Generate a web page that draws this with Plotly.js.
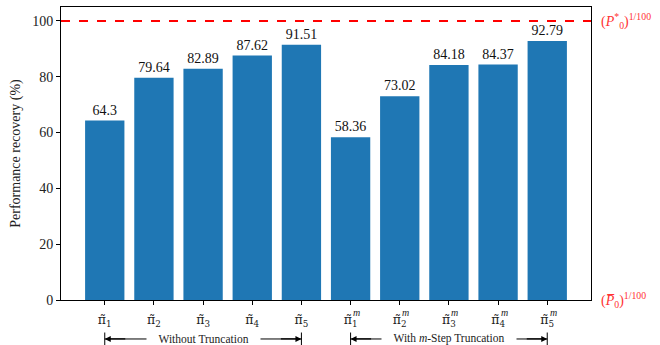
<!DOCTYPE html>
<html>
<head>
<meta charset="utf-8">
<script src="https://cdn.plot.ly/plotly-3.0.1.min.js"></script>
<style>body{margin:0;background:#fff}#chart{width:660px;height:345px}</style>
</head>
<body>
<div id="chart"></div>
<script>
const categories = ["p1","p2","p3","p4","p5","m1","m2","m3","m4","m5"];
const tickLabels = [
  "π̃<sub>1</sub>","π̃<sub>2</sub>","π̃<sub>3</sub>","π̃<sub>4</sub>","π̃<sub>5</sub>",
  "π̃<sub>1</sub>","π̃<sub>2</sub>","π̃<sub>3</sub>","π̃<sub>4</sub>","π̃<sub>5</sub>"
];
const tickSuper = ["","","","","","m","m","m","m","m"];
const values = [64.3, 79.64, 82.89, 87.62, 91.51, 58.36, 73.02, 84.18, 84.37, 92.79];
const valueLabels = ["64.3","79.64","82.89","87.62","91.51","58.36","73.02","84.18","84.37","92.79"];
const refLevel = 100;
const lowLevel = 0;
const groups = [
  {text: "Without Truncation", from: 0, to: 4},
  {text: "With <i>m</i>-Step Truncation", from: 5, to: 9}
];

const F = "Liberation Serif, DejaVu Serif, serif";
const FT = "DejaVu Serif, serif";
const xs = categories.map((c, i) => i);

const trace = {
  type: "bar",
  x: xs,
  y: values,
  width: 0.8,
  marker: {color: "#1f77b4"},
  text: valueLabels,
  textposition: "outside",
  textfont: {family: F, size: 14, color: "#111"},
  cliponaxis: false,
  hoverinfo: "none"
};

const GY = -0.133;
const NB = "\u00a0\u00a0\u00a0\u00a0";
const shapes = [
  {type: "line", xref: "paper", x0: 0, x1: 1, yref: "y", y0: refLevel, y1: refLevel,
   line: {color: "#ff0000", width: 2, dash: "dash"}, layer: "above"}
];
const annotations = [
  {xref: "paper", x: 1, xanchor: "left", xshift: 8, yref: "y", y: refLevel, showarrow: false,
   text: "(<i>P</i><sup>*</sup><sub>0</sub>)<sup>1/100</sup>", font: {family: F, size: 14, color: "#ff3333"}},
  {xref: "paper", x: 1, xanchor: "left", xshift: 8, yref: "y", y: lowLevel, showarrow: false,
   text: "(<i>P̅</i><sub>0</sub>)<sup>1/100</sup>", font: {family: F, size: 14, color: "#ff3333"}}
];
xs.forEach(i => {
  if (tickSuper[i]) {
    annotations.push({xref: "x", x: i, xshift: 6, yref: "paper", y: -0.068, showarrow: false,
      text: "<i>" + tickSuper[i] + "</i>", font: {family: F, size: 10, color: "#222"}});
  }
});
groups.forEach(g => {
  shapes.push({type: "line", xref: "x", x0: g.from, x1: g.to, yref: "paper", y0: GY, y1: GY,
    line: {color: "#000", width: 1}});
  shapes.push({type: "line", xref: "x", x0: g.from, x1: g.from, yref: "paper", y0: GY - 0.022, y1: GY + 0.022,
    line: {color: "#000", width: 1}});
  shapes.push({type: "line", xref: "x", x0: g.to, x1: g.to, yref: "paper", y0: GY - 0.022, y1: GY + 0.022,
    line: {color: "#000", width: 1}});
  annotations.push({xref: "x", x: (g.from + g.to) / 2, yref: "paper", y: GY, showarrow: false,
    text: NB + g.text + NB, bgcolor: "#fff", borderpad: 0, font: {family: F, size: 11.5, color: "#222"},
    xanchor: "center", yanchor: "middle"});
  annotations.push({xref: "x", x: g.from, yref: "paper", y: GY, ax: 22, ay: 0, text: "",
    showarrow: true, arrowhead: 2, arrowsize: 1, arrowwidth: 1.2, arrowcolor: "#000", standoff: 0});
  annotations.push({xref: "x", x: g.to, yref: "paper", y: GY, ax: -22, ay: 0, text: "",
    showarrow: true, arrowhead: 2, arrowsize: 1, arrowwidth: 1.2, arrowcolor: "#000", standoff: 0});
});

const layout = {
  width: 660, height: 345,
  margin: {l: 61, r: 69, t: 7, b: 45},
  paper_bgcolor: "#fff", plot_bgcolor: "#fff",
  showlegend: false,
  font: {family: F, size: 13, color: "#222"},
  xaxis: {
    range: [-0.89, 9.89], tickmode: "array", tickvals: xs, ticktext: tickLabels,
    ticks: "outside", ticklen: 4, tickcolor: "#000", showgrid: false, zeroline: false,
    showline: true, linecolor: "#000", linewidth: 1, mirror: true, ticklabelstandoff: 4,
    tickfont: {family: FT, size: 12.5, color: "#222"}
  },
  yaxis: {
    range: [0, 105], tickvals: [0, 20, 40, 60, 80, 100], ticks: "outside", ticklen: 4,
    tickcolor: "#000", showgrid: false, zeroline: false,
    showline: true, linecolor: "#000", linewidth: 1, mirror: true,
    tickfont: {family: F, size: 14, color: "#222"},
    title: {text: "Performance recovery (%)", font: {family: F, size: 14, color: "#222"}, standoff: 8}
  },
  shapes: shapes,
  annotations: annotations
};

Plotly.newPlot("chart", [trace], layout, {displayModeBar: false, staticPlot: true});
</script>
</body>
</html>
